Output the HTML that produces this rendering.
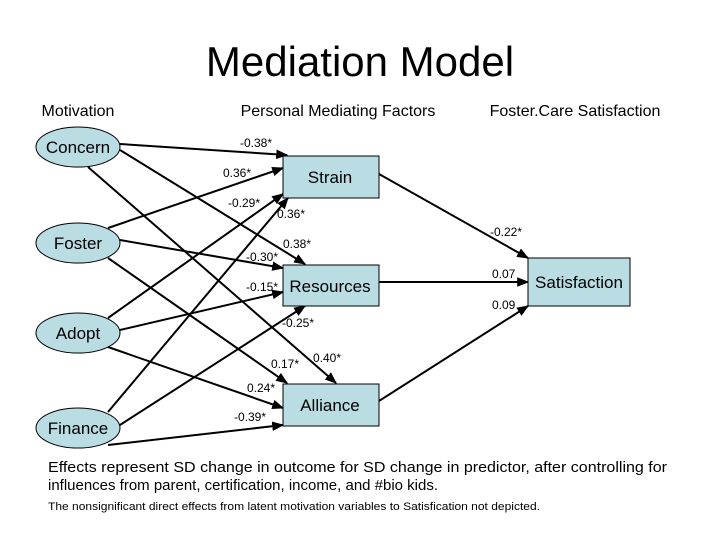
<!DOCTYPE html>
<html><head><meta charset="utf-8"><style>html,body{margin:0;padding:0;background:#fff}</style></head>
<body>
<svg width="720" height="540" viewBox="0 0 720 540" xmlns="http://www.w3.org/2000/svg" font-family="Liberation Sans, Arial, sans-serif">
<defs><marker id="a" viewBox="0 0 10 10" refX="9" refY="5" markerWidth="6" markerHeight="6" orient="auto"><path d="M0,1 L10,5 L0,9 z" fill="#000"/></marker></defs>
<text x="360" y="76" font-size="42" text-anchor="middle">Mediation Model</text>
<text x="78" y="116" font-size="16" text-anchor="middle">Motivation</text>
<text x="338" y="116" font-size="16" text-anchor="middle">Personal Mediating Factors</text>
<text x="575" y="116" font-size="16" text-anchor="middle">Foster.Care Satisfaction</text>
<g stroke="#000" stroke-width="2" fill="none" marker-end="url(#a)">
<line x1="120" y1="144" x2="287" y2="155"/>
<line x1="120" y1="150" x2="305" y2="264"/>
<line x1="88" y1="167" x2="336" y2="383"/>
<line x1="108" y1="228" x2="283" y2="168"/>
<line x1="120" y1="240" x2="283" y2="268"/>
<line x1="108" y1="258" x2="287" y2="383"/>
<line x1="108" y1="318" x2="283" y2="194"/>
<line x1="120" y1="330" x2="283" y2="292"/>
<line x1="108" y1="347" x2="283" y2="408"/>
<line x1="108" y1="412" x2="288" y2="198"/>
<line x1="120" y1="425" x2="305" y2="306"/>
<line x1="108" y1="445" x2="283" y2="425"/>
<line x1="379" y1="174" x2="528" y2="258"/>
<line x1="379" y1="282" x2="528" y2="282"/>
<line x1="379" y1="401" x2="528" y2="306"/>
</g>
<g fill="#b9dde3" stroke="#000" stroke-width="1">
<ellipse cx="78" cy="147" rx="42" ry="20"/>
<ellipse cx="78" cy="243" rx="42" ry="20"/>
<ellipse cx="78" cy="333" rx="42" ry="20"/>
<ellipse cx="78" cy="428" rx="42" ry="20"/>
<rect x="283" y="156" width="96" height="42"/>
<rect x="283" y="265" width="96" height="41"/>
<rect x="283" y="384" width="96" height="42"/>
<rect x="528" y="258" width="102" height="48"/>
</g>
<g font-size="17" text-anchor="middle">
<text x="78" y="153">Concern</text>
<text x="78" y="249">Foster</text>
<text x="78" y="339">Adopt</text>
<text x="78" y="434">Finance</text>
<text x="330" y="183">Strain</text>
<text x="330" y="292">Resources</text>
<text x="330" y="411">Alliance</text>
<text x="579" y="288">Satisfaction</text>
</g>
<g font-size="12">
<text x="240" y="147">-0.38*</text>
<text x="223" y="177">0.36*</text>
<text x="228" y="207">-0.29*</text>
<text x="277" y="218">0.36*</text>
<text x="283" y="248">0.38*</text>
<text x="246" y="261">-0.30*</text>
<text x="246" y="291">-0.15*</text>
<text x="282" y="327">-0.25*</text>
<text x="271" y="368">0.17*</text>
<text x="313" y="362">0.40*</text>
<text x="247" y="392">0.24*</text>
<text x="234" y="421">-0.39*</text>
<text x="490" y="236">-0.22*</text>
<text x="492" y="278">0.07</text>
<text x="492" y="309">0.09</text>
</g>
<text x="48" y="472" font-size="15" textLength="619" lengthAdjust="spacingAndGlyphs">Effects represent SD change in outcome for SD change in predictor, after controlling for</text>
<text x="48" y="490" font-size="15" textLength="390" lengthAdjust="spacingAndGlyphs">influences from parent, certification, income, and #bio kids.</text>
<text x="48" y="510" font-size="11" textLength="492" lengthAdjust="spacingAndGlyphs">The nonsignificant direct effects from latent motivation variables to Satisfication not depicted.</text>
</svg>
</body></html>
